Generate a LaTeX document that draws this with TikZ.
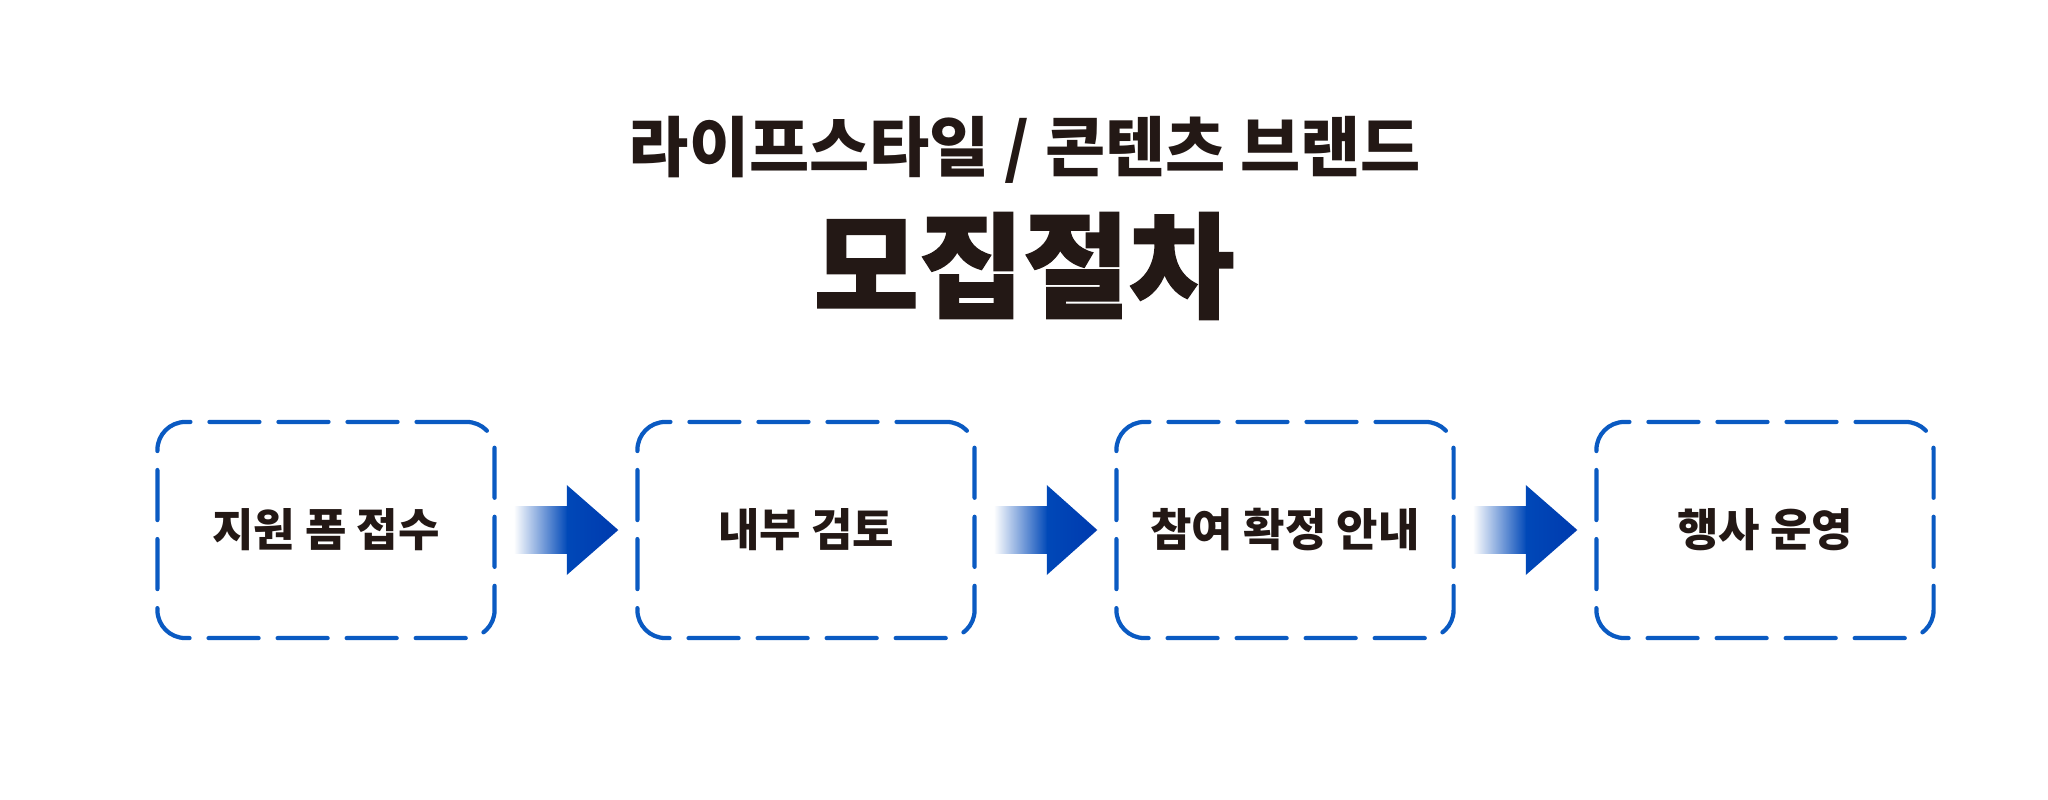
\documentclass[tikz,border=0pt]{standalone}
\usepackage{fontspec}
\setmainfont{Noto Sans CJK KR}
\newfontfamily\krheavy{Noto Sans CJK KR}[BoldFeatures={FakeBold=1.4}]

\definecolor{inkblack}{HTML}{231815}
\definecolor{boxblue}{HTML}{0A5AC2}
\definecolor{arrowblue}{HTML}{0048B8}
\definecolor{arrowdark}{HTML}{003AAE}

\tikzset{
  stepbox/.style={draw=boxblue, line width=1.2pt, rounded corners=0.28cm,
    dash pattern=on 0.5cm off 0.19cm, line cap=round,
    minimum width=3.37cm, minimum height=2.16cm, inner sep=0pt,
    font=\bfseries\fontsize{12.8}{14}\selectfont, text=inkblack},
}

\begin{document}
\begin{tikzpicture}[x=0.01cm, y=-0.01cm]

  % canvas
  \fill[white] (0,0) rectangle (2048,800);
  \useasboundingbox (0,0) rectangle (2048,800);

  % headings
  \node[font=\bfseries\fontsize{18.6}{21}\selectfont, text=inkblack] (sub) at (1025,150) {라이프스타일 / 콘텐츠 브랜드};
  \node[font=\krheavy\bfseries\fontsize{32.5}{36}\selectfont, text=inkblack] (title) at (1024,266) {모집절차};

  % step boxes
  \node[stepbox] (apply) at (326,530) {지원 폼 접수};
  \node[stepbox] (review) at (806,530) {내부 검토};
  \node[stepbox] (confirm) at (1285,530) {참여 확정 안내};
  \node[stepbox] (event) at (1765,530) {행사 운영};

  % arrow apply -> review
  \shade[left color=white, middle color=arrowblue!85, right color=arrowblue] ([xshift=0.17cm,yshift=0.23cm]apply.east) rectangle ([xshift=0.71cm,yshift=-0.23cm]apply.east);
  \shade[left color=arrowblue, right color=arrowdark] ([xshift=0.70cm,yshift=0.45cm]apply.east) -- ([xshift=0.70cm,yshift=-0.45cm]apply.east) -- ([xshift=-0.17cm]review.west) -- cycle;

  % arrow review -> confirm
  \shade[left color=white, middle color=arrowblue!85, right color=arrowblue] ([xshift=0.17cm,yshift=0.23cm]review.east) rectangle ([xshift=0.71cm,yshift=-0.23cm]review.east);
  \shade[left color=arrowblue, right color=arrowdark] ([xshift=0.70cm,yshift=0.45cm]review.east) -- ([xshift=0.70cm,yshift=-0.45cm]review.east) -- ([xshift=-0.17cm]confirm.west) -- cycle;

  % arrow confirm -> event
  \shade[left color=white, middle color=arrowblue!85, right color=arrowblue] ([xshift=0.17cm,yshift=0.23cm]confirm.east) rectangle ([xshift=0.71cm,yshift=-0.23cm]confirm.east);
  \shade[left color=arrowblue, right color=arrowdark] ([xshift=0.70cm,yshift=0.45cm]confirm.east) -- ([xshift=0.70cm,yshift=-0.45cm]confirm.east) -- ([xshift=-0.17cm]event.west) -- cycle;

\end{tikzpicture}
\end{document}
